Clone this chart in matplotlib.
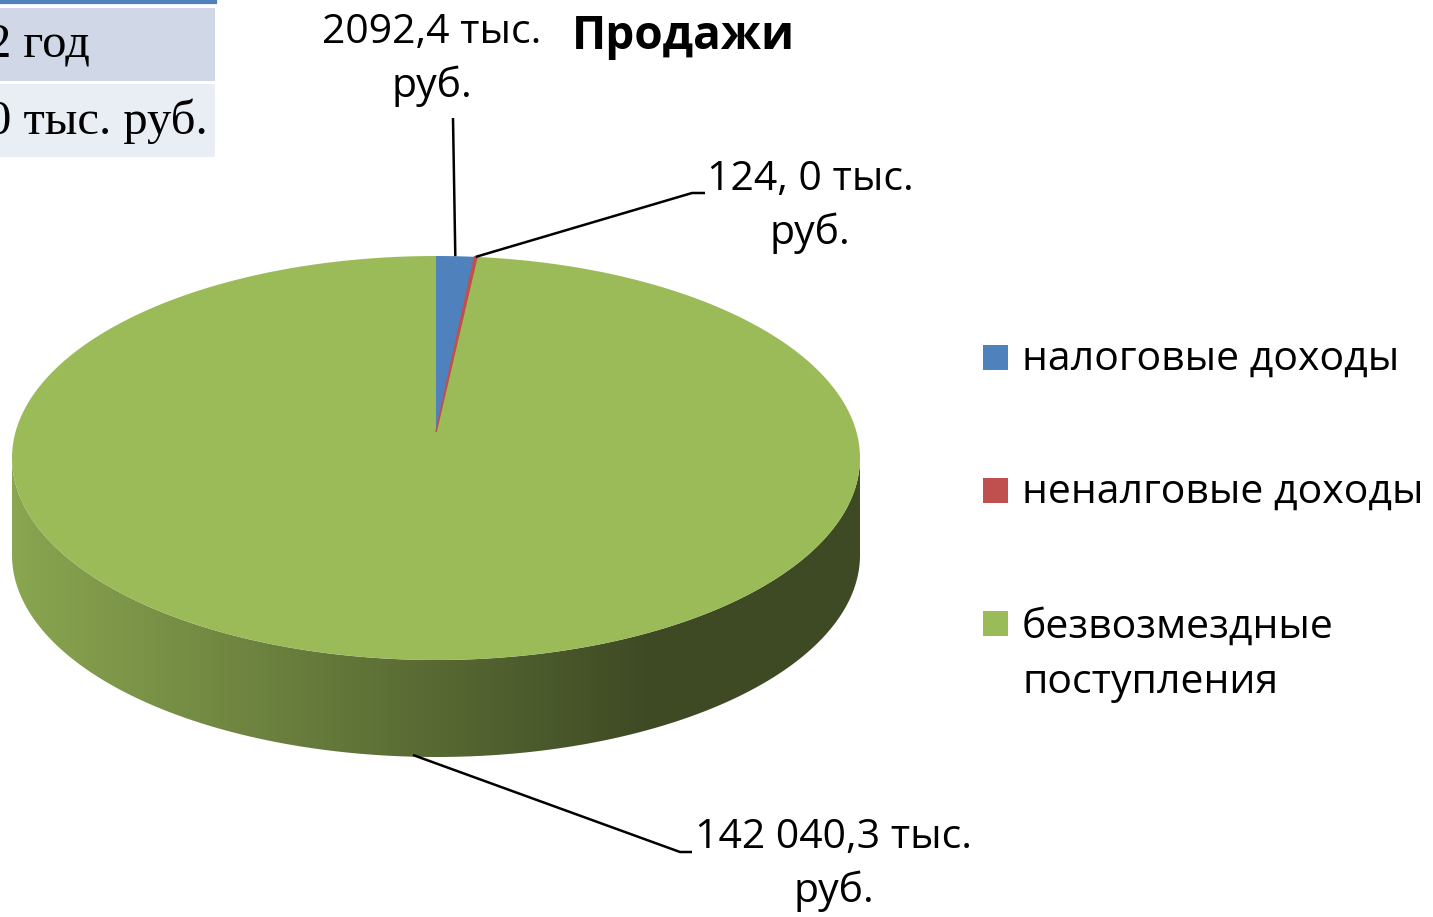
#!/usr/bin/env python3
import numpy as np
import matplotlib
matplotlib.use("Agg")
import matplotlib.pyplot as plt
from matplotlib.patches import Polygon, Rectangle

# chart data
categories = ["налоговые доходы", "неналговые доходы", "безвозмездные\nпоступления"]
values = [2092.4, 124.0, 142040.3]
value_labels = ["2092,4 тыс.\nруб.", "124, 0 тыс.\nруб.", "142 040,3 тыс.\nруб."]
colors = ["#4f81bd", "#c0504d", "#9bbb59"]
title = "Продажи"

# fragment of the table that sits behind the chart
table_texts = ["2 год", "0 тыс. руб."]
table_fills = ["#d0d8e8", "#e9edf4"]

W, H = 1433, 917
FONT = "Open Sans"

# 3D pie geometry in pixel space
cx, cy = 436, 458          # centre of the top ellipse
rx, ry = 424, 202          # semi axes
apex_y = 432               # where the slices meet (perspective)
depth = 97


def rim(theta_deg):
    """Point on the top rim, angle clockwise from 12 o'clock."""
    t = np.radians(theta_deg)
    return cx + rx * np.sin(t), cy - ry * np.cos(t)


def arc(a0, a1, n=400):
    t = np.linspace(a0, a1, n)
    x, y = rim(t)
    return np.column_stack([x, y])


fig = plt.figure(figsize=(W / 100, H / 100), dpi=100)
ax = fig.add_axes([0, 0, 1, 1])

# side of the cylinder with a left->right shading
front = arc(90, 270)
side_pts = np.vstack([front, front[::-1] + [0, depth]])
side = Polygon(side_pts, closed=True, facecolor="none", edgecolor="none")
ax.add_patch(side)
xs = np.linspace(cx - rx, cx + rx, 600)
light = np.array([138, 166, 80]) / 255
dark = np.array([62, 74, 36]) / 255
k = np.clip((xs - (cx - rx)) / (650 - (cx - rx)), 0, 1)[:, None]
grad = (light * (1 - k) + dark * k)[None, :, :]
img = ax.imshow(grad, extent=(cx - rx, cx + rx, cy + ry + depth + 2, cy - 5),
                aspect="auto", interpolation="bilinear", zorder=1)
img.set_clip_path(side)

# top face: slices
fracs = np.array(values) / sum(values)
bounds = np.concatenate([[0], np.cumsum(fracs) * 360])
order = [2, 0, 1]
for i in order:
    pts = np.vstack([[cx, apex_y], arc(bounds[i], bounds[i + 1])])
    lw = 1.2 if i == 1 else 0
    ax.add_patch(Polygon(pts, closed=True, facecolor=colors[i],
                         edgecolor=colors[i], linewidth=lw, zorder=2))

# leader lines and value labels
label_pos = [(432, 60), (810, 207), (834, 865)]
leaders = [
    [rim((bounds[0] + bounds[1]) / 2), (453, 118)],
    [rim((bounds[1] + bounds[2]) / 2), (692, 193), (705, 193)],
    [(413, cy + ry + depth - 2), (680, 852), (692, 852)],
]
for pts in leaders:
    pts = np.array(pts)
    ax.plot(pts[:, 0], pts[:, 1], color="black", lw=1.8, zorder=3,
            solid_capstyle="butt")
for (x, y), lab in zip(label_pos, value_labels):
    ax.text(x, y, lab, ha="center", va="center", fontsize=29.5,
            family=FONT, linespacing=1.4, zorder=4)

ax.text(683, 36, title, ha="center", va="center", fontsize=33,
        fontweight="bold", family=FONT)

# legend
leg_y = [357, 490, 623]
for y, name, c in zip(leg_y, categories, colors):
    ax.add_patch(Rectangle((983, y - 12.5), 25, 25, facecolor=c, edgecolor="none"))
    n = name.count("\n")
    ax.text(1022, y + 30 * n + 2, name, ha="left", va="center",
            fontsize=29.5, family=FONT, linespacing=1.48)

# table fragment (cropped at the left edge)
ax.plot([0, 215], [1.5, 1.5], color="#4f81bd", lw=3)
row_top = [8, 84]
for top, txt, fill in zip(row_top, table_texts, table_fills):
    ax.add_patch(Rectangle((0, top), 215, 73, facecolor=fill, edgecolor="none"))
    ax.text(-13, top + 37, txt, ha="left", va="center", fontsize=35,
            family="Liberation Serif")

ax.set_xlim(0, W)
ax.set_ylim(H, 0)
ax.axis("off")
fig.savefig("out.png", dpi=100, facecolor="white")
